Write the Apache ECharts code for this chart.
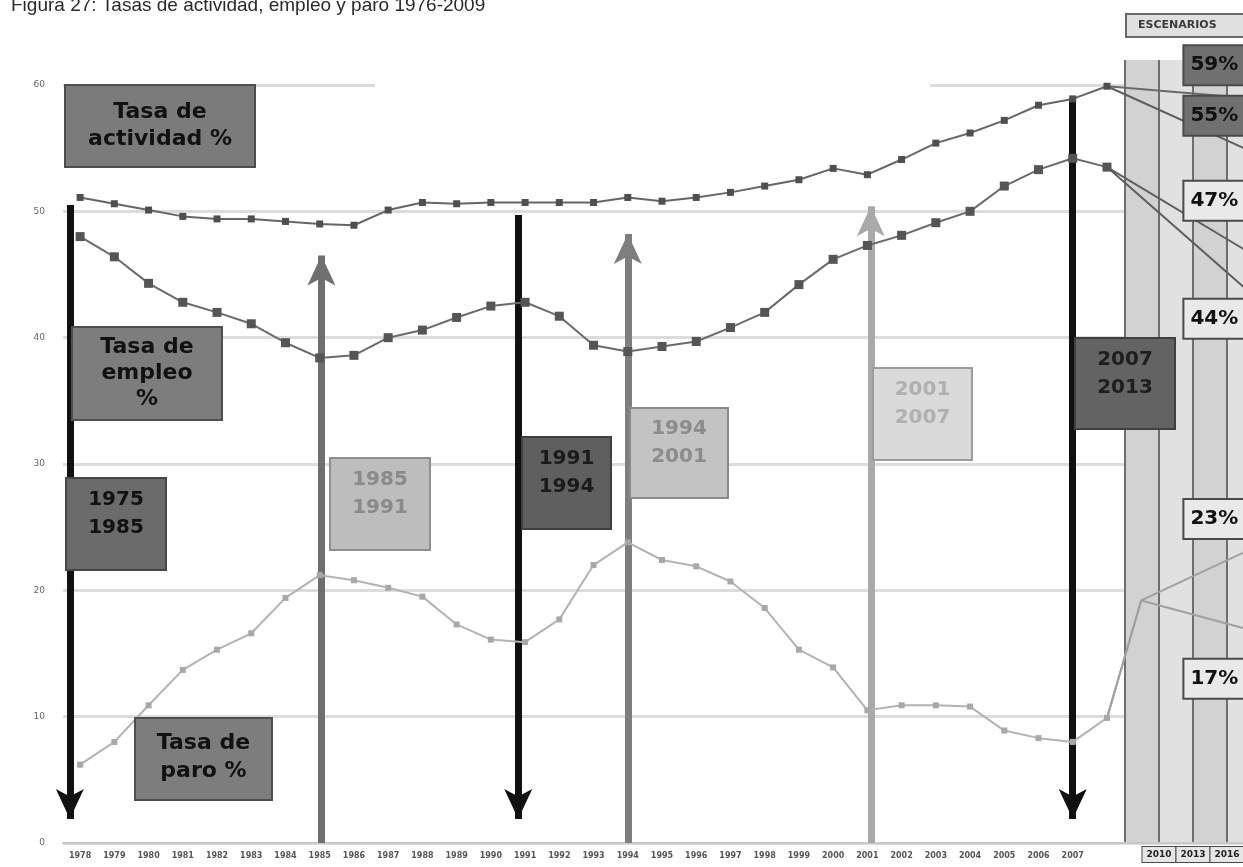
<!DOCTYPE html>
<html>
<head>
<meta charset="utf-8">
<script src="https://cdn.jsdelivr.net/npm/echarts@6.0.0/dist/echarts.min.js"></script>
<style>
  html, body { margin: 0; padding: 0; overflow: hidden; background: #ffffff; }
  #chart { width: 1300px; height: 867px; }
</style>
</head>
<body>
<div id="chart"></div>
<script>
// Años del eje principal (serie observada 1978-2008 y horizonte de escenarios)
const years = ['1978','1979','1980','1981','1982','1983','1984','1985','1986','1987',
  '1988','1989','1990','1991','1992','1993','1994','1995','1996','1997',
  '1998','1999','2000','2001','2002','2003','2004','2005','2006','2007',
  '2008','2009','2010','2011','2012'];
const lastLabeledYear = 2007;
const lastObservedYear = '2008';
const bridgeYear = '2009';
const horizonYear = '2012';

// Tasas observadas (%)
const tasaActividad = [51.1, 50.6, 50.1, 49.6, 49.4, 49.4, 49.2, 49.0, 48.9, 50.1,
  50.7, 50.6, 50.7, 50.7, 50.7, 50.7, 51.1, 50.8, 51.1, 51.5,
  52.0, 52.5, 53.4, 52.9, 54.1, 55.4, 56.2, 57.2, 58.4, 58.9, 59.9];
const tasaEmpleo = [48.0, 46.4, 44.3, 42.8, 42.0, 41.1, 39.6, 38.4, 38.6, 40.0,
  40.6, 41.6, 42.5, 42.8, 41.7, 39.4, 38.9, 39.3, 39.7, 40.8,
  42.0, 44.2, 46.2, 47.3, 48.1, 49.1, 50.0, 52.0, 53.3, 54.2, 53.5];
const tasaParo = [6.2, 8.0, 10.9, 13.7, 15.3, 16.6, 19.4, 21.2, 20.8, 20.2,
  19.5, 17.3, 16.1, 15.9, 17.7, 22.0, 23.8, 22.4, 21.9, 20.7,
  18.6, 15.3, 13.9, 10.5, 10.9, 10.9, 10.8, 8.9, 8.3, 8.0, 9.9];

// Escenarios al final del horizonte (%)
const escenariosActividad = [59, 55];
const escenariosEmpleo = [47, 44];
const paroPuente = 19.2;
const escenariosParo = [23, 17];

// Años del panel de escenarios (el primero marca el borde del panel, sin rótulo)
const panelEdgeYear = '2008';
const panelYears = ['2010', '2013', '2016', '2019'];

// Flechas de fases: año, desde, hasta (%)
const flechaAnio = [1977.7, 1985.05, 1990.8, 1994.0, 2001.1, 2007.0];
const flechaDesde = [50.5, 0, 49.7, 0, 0, 59.0];
const flechaHasta = [1.9, 46.5, 1.9, 48.2, 50.4, 1.9];
const flechaColor = ['#111111', '#6f6f6f', '#111111', '#7e7e7e', '#a9a9a9', '#111111'];

// Rótulos de fases y de series
const rotulos = [
  { text: 'Tasa de\nactividad %', x: 65, y: 85, w: 190, h: 82, fill: '#7b7b7b', stroke: '#4f4f4f', color: '#111', size: 22, lh: 27, dy: 0 },
  { text: 'Tasa de\nempleo\n%', x: 72, y: 327, w: 150, h: 93, fill: '#7d7d7d', stroke: '#4f4f4f', color: '#111', size: 22, lh: 26, dy: 0 },
  { text: 'Tasa de\nparo %', x: 135, y: 718, w: 137, h: 82, fill: '#7d7d7d', stroke: '#4f4f4f', color: '#111', size: 22, lh: 28, dy: -2 },
  { text: '1975\n1985', x: 66, y: 478, w: 100, h: 92, fill: '#6b6b6b', stroke: '#474747', color: '#111', size: 20, lh: 28, dy: -10 },
  { text: '1985\n1991', x: 330, y: 458, w: 100, h: 92, fill: '#bdbdbd', stroke: '#8e8e8e', color: '#8a8a8a', size: 20, lh: 28, dy: -10 },
  { text: '1991\n1994', x: 522, y: 437, w: 89, h: 92, fill: '#5f5f5f', stroke: '#3f3f3f', color: '#1a1a1a', size: 20, lh: 28, dy: -10 },
  { text: '1994\n2001', x: 630, y: 408, w: 98, h: 90, fill: '#c3c3c3', stroke: '#8a8a8a', color: '#8c8c8c', size: 20, lh: 28, dy: -10 },
  { text: '2001\n2007', x: 873, y: 368, w: 99, h: 92, fill: '#dadada', stroke: '#9c9c9c', color: '#b0b0b0', size: 20, lh: 28, dy: -10 },
  { text: '2007\n2013', x: 1075, y: 338, w: 100, h: 91, fill: '#636363', stroke: '#404040', color: '#1e1e1e', size: 20, lh: 28, dy: -10 }
];

// Recorrido de un escenario: último dato observado, puente opcional y valor final
function escenario(inicio, puente, final) {
  return years.map(function (y) {
    if (y === lastObservedYear) return inicio;
    if (puente !== null && y === bridgeYear) return puente;
    if (y === horizonYear) return final;
    return null;
  });
}

function escenarioSerie(nombre, datos, final, color, oscuro, offset) {
  return {
    name: nombre,
    type: 'line',
    xAxisIndex: 0,
    yAxisIndex: 0,
    data: datos,
    connectNulls: true,
    showSymbol: false,
    symbol: 'none',
    silent: true,
    z: 3,
    lineStyle: { color: color, width: 2 },
    markPoint: {
      symbol: 'circle',
      symbolSize: 1,
      silent: true,
      itemStyle: { color: 'rgba(0,0,0,0)' },
      data: [{ coord: [horizonYear, final], value: final }],
      label: {
        show: true,
        position: offset,
        formatter: '{c}%',
        fontFamily: 'DejaVu Sans',
        fontWeight: 'bold',
        fontSize: 20,
        color: '#111',
        backgroundColor: oscuro ? '#707070' : '#e9e9e9',
        borderColor: '#4a4a4a',
        borderWidth: 2,
        padding: [7, 12, 7, 6],
        lineHeight: 24
      }
    }
  };
}

function observadaSerie(nombre, datos, color, ancho, tam, colorMarca) {
  return {
    name: nombre,
    type: 'line',
    xAxisIndex: 0,
    yAxisIndex: 0,
    data: datos,
    symbol: 'rect',
    symbolSize: tam,
    showAllSymbol: true,
    z: 5,
    lineStyle: { color: color, width: ancho },
    itemStyle: { color: colorMarca, borderWidth: 0 }
  };
}

const chart = echarts.init(document.getElementById('chart'), null, { renderer: 'canvas' });

const graphicItems = [
  // franja blanca bajo la cabecera
  { type: 'rect', z: 40, shape: { x: 375, y: 20, width: 555, height: 72 }, style: { fill: '#ffffff' } }
];
rotulos.forEach(function (r) {
  graphicItems.push({
    type: 'rect', z: 50,
    shape: { x: r.x, y: r.y, width: r.w, height: r.h },
    style: { fill: r.fill, stroke: r.stroke, lineWidth: 2 }
  });
  graphicItems.push({
    type: 'text', z: 51,
    x: r.x + r.w / 2, y: r.y + r.h / 2 + r.dy,
    style: {
      text: r.text, fill: r.color,
      fontFamily: 'DejaVu Sans', fontWeight: 'bold', fontSize: r.size,
      lineHeight: r.lh, align: 'center', verticalAlign: 'middle'
    }
  });
});

const hiddenLabel = { color: 'rgba(0,0,0,0)', backgroundColor: 'rgba(0,0,0,0)', borderColor: 'rgba(0,0,0,0)', borderWidth: 0 };
const panelCategories = [{ value: panelEdgeYear, textStyle: hiddenLabel }].concat(panelYears);

const option = {
  animation: false,
  backgroundColor: '#ffffff',
  title: [
    {
      text: 'Figura 27: Tasas de actividad, empleo y paro 1976-2009',
      left: 6, top: -9,
      textStyle: { fontFamily: 'Liberation Sans', fontSize: 19, fontWeight: 'normal', color: '#2a2a2a' }
    },
    {
      text: 'ESCENARIOS',
      left: 1126, top: 14,
      padding: [6, 60, 6, 12],
      backgroundColor: '#e0e0e0',
      borderColor: '#6a6a6a',
      borderWidth: 2,
      textStyle: { fontFamily: 'DejaVu Sans', fontSize: 11, fontWeight: 'bold', color: '#3a3a3a' }
    }
  ],
  grid: [
    { left: 63, right: 39, top: 85, bottom: 24, outerBoundsMode: 'none', containLabel: false },
    { left: 1125, right: 39, top: 60, bottom: 24, outerBoundsMode: 'none', containLabel: false,
      show: true, backgroundColor: '#d8d8d8', borderWidth: 0, z: 0 }
  ],
  xAxis: [
    {
      type: 'category', gridIndex: 0, data: years, boundaryGap: true,
      axisLine: { show: true, lineStyle: { color: '#c9c9c9', width: 2 } },
      axisTick: { show: false },
      axisLabel: {
        interval: 0, margin: 9, fontSize: 8, fontWeight: 'bold', color: '#555',
        fontFamily: 'DejaVu Sans',
        formatter: function (v) { return (+v <= lastLabeledYear) ? v : ''; }
      },
      splitLine: { show: false }
    },
    {
      type: 'value', gridIndex: 0, min: 1977.5, max: 2012.5, show: false
    },
    {
      type: 'category', gridIndex: 1, data: panelCategories, boundaryGap: false,
      axisLine: { show: false }, axisTick: { show: false },
      axisLabel: {
        interval: 0, hideOverlap: false,
        margin: 4, fontSize: 9, fontWeight: 'bold', color: '#222',
        fontFamily: 'DejaVu Sans',
        backgroundColor: '#e6e6e6', borderColor: '#4a4a4a', borderWidth: 1, padding: [3, 4, 3, 4]
      },
      splitLine: { show: true, interval: 0, lineStyle: { color: '#6e6e6e', width: 2 } },
      splitArea: { show: true, interval: 0, areaStyle: { color: ['#d2d2d2', '#e1e1e1'] } }
    }
  ],
  yAxis: [
    {
      type: 'value', gridIndex: 0, min: 0, max: 60, interval: 10,
      axisLine: { show: false }, axisTick: { show: false },
      axisLabel: { margin: 18, fontSize: 9, color: '#666', fontFamily: 'DejaVu Sans' },
      splitLine: { show: true, lineStyle: { color: '#dcdcdc', width: 3 } }
    },
    {
      type: 'value', gridIndex: 1, min: 0, max: 60, interval: 10, show: false,
      splitLine: { show: false }
    }
  ],
  graphic: graphicItems,
  series: [
    observadaSerie('Tasa de actividad', tasaActividad, '#666666', 2, 7, '#4f4f4f'),
    observadaSerie('Tasa de empleo', tasaEmpleo, '#6a6a6a', 2, 9, '#555555'),
    observadaSerie('Tasa de paro', tasaParo, '#b3b3b3', 2, 6, '#a8a8a8'),
    escenarioSerie('Actividad A', escenario(tasaActividad[tasaActividad.length - 1], null, escenariosActividad[0]), escenariosActividad[0], '#6a6a6a', true, [-59, -51]),
    escenarioSerie('Actividad B', escenario(tasaActividad[tasaActividad.length - 1], null, escenariosActividad[1]), escenariosActividad[1], '#5e5e5e', true, [-59, -51]),
    escenarioSerie('Empleo A', escenario(tasaEmpleo[tasaEmpleo.length - 1], null, escenariosEmpleo[0]), escenariosEmpleo[0], '#5e5e5e', false, [-59, -67]),
    escenarioSerie('Empleo B', escenario(tasaEmpleo[tasaEmpleo.length - 1], null, escenariosEmpleo[1]), escenariosEmpleo[1], '#5e5e5e', false, [-59, 13]),
    escenarioSerie('Paro A', escenario(tasaParo[tasaParo.length - 1], paroPuente, escenariosParo[0]), escenariosParo[0], '#a0a0a0', false, [-59, -52]),
    escenarioSerie('Paro B', escenario(tasaParo[tasaParo.length - 1], paroPuente, escenariosParo[1]), escenariosParo[1], '#a0a0a0', false, [-59, 32]),
    {
      name: 'Fases',
      type: 'line',
      xAxisIndex: 1,
      yAxisIndex: 0,
      data: [],
      silent: true,
      z: 4,
      markLine: {
        silent: true,
        animation: false,
        symbol: ['none', 'arrow'],
        label: { show: false },
        emphasis: { disabled: true },
        data: flechaAnio.map(function (anio, i) {
          return [
            { coord: [anio, flechaDesde[i]], symbol: 'none',
              lineStyle: { color: flechaColor[i], width: 7, type: 'solid', opacity: 1 } },
            { coord: [anio, flechaHasta[i]], symbol: 'arrow', symbolSize: [21, 30] }
          ];
        })
      }
    }
  ]
};

chart.setOption(option);
</script>
</body>
</html>
